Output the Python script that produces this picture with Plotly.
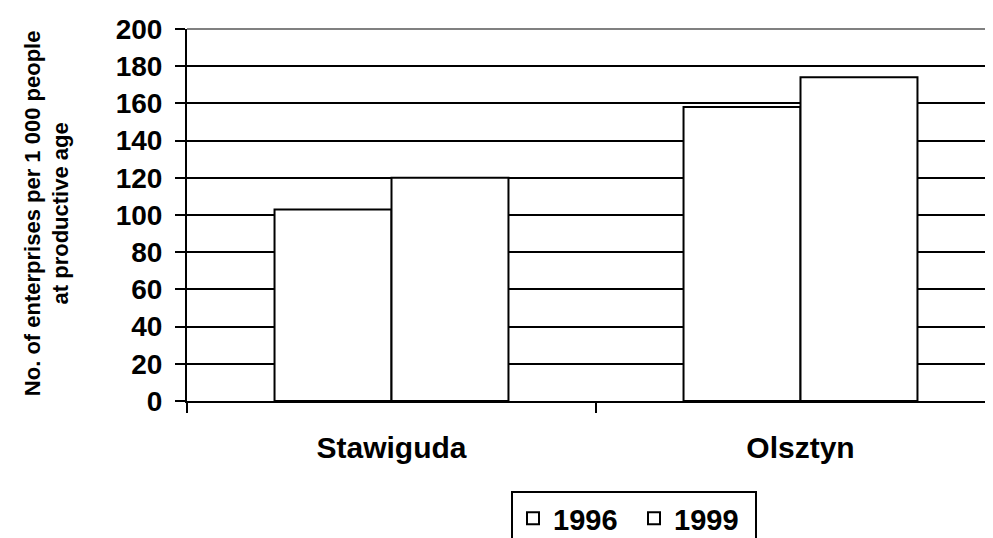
import plotly.graph_objects as go

categories = ["Stawiguda", "Olsztyn"]
series_names = ["1996", "1999"]
values_1996 = [103, 158]
values_1999 = [120, 174]
y_ticks = [0, 20, 40, 60, 80, 100, 120, 140, 160, 180, 200]
y_title = "No. of enterprises per 1 000 people<br>at productive age"

FONT = "Liberation Sans, Arial, sans-serif"

fig = go.Figure()
for name, vals in zip(series_names, [values_1996, values_1999]):
    fig.add_trace(go.Bar(
        x=categories, y=vals, name=name,
        marker=dict(color="white", line=dict(color="black", width=2)),
    ))

# page body has an 8px margin; plot area starts at screen x=187, y=29
cat_px = 409.0
L, T, B = 179, 21, 167
W, H = 993, 560
plot_w = W - L
plot_h = H - T - B
fig.update_layout(
    width=W, height=H,
    margin=dict(l=L, r=0, t=T, b=B, pad=0),
    paper_bgcolor="white", plot_bgcolor="white",
    font=dict(family=FONT, color="black", weight="bold"),
    barmode="group", bargap=0.428, bargroupgap=0,
    showlegend=True,
    legend=dict(
        orientation="h", x=(503 - L) / plot_w, xanchor="left",
        y=-(483 - (T + plot_h)) / plot_h, yanchor="top",
        font=dict(size=29, family=FONT, weight="bold"),
        bordercolor="black", borderwidth=2, bgcolor="white",
        entrywidth=76, tracegroupgap=0,
    ),
    xaxis=dict(
        range=[-0.5, -0.5 + plot_w / cat_px],
        showline=True, linecolor="black", linewidth=2,
        ticks="outside", tickson="boundaries", ticklen=10, tickwidth=2, tickcolor="black",
        tickfont=dict(size=30, family=FONT, weight="bold"),
        ticklabelstandoff=19,
        showgrid=False, zeroline=False,
    ),
    yaxis=dict(
        range=[0, 200], tickvals=y_ticks,
        showline=True, linecolor="black", linewidth=2,
        ticks="outside", ticklen=10, tickwidth=2, tickcolor="black",
        tickfont=dict(size=28, family=FONT, weight="bold"),
        ticklabelstandoff=7,
        showgrid=True, gridcolor="black", gridwidth=1.5,
        zeroline=False,
    ),
    annotations=[dict(
        text=y_title, xref="paper", yref="paper", x=0, y=0.505,
        xanchor="center", yanchor="middle", xshift=-140,
        textangle=-90, showarrow=False,
        font=dict(size=22, family=FONT, weight="bold", color="black"),
    )],
    shapes=[dict(type="line", xref="paper", yref="paper", x0=0, x1=1, y0=1, y1=1,
                 line=dict(color="#808080", width=2))],
)

fig.write_html("out.html")
